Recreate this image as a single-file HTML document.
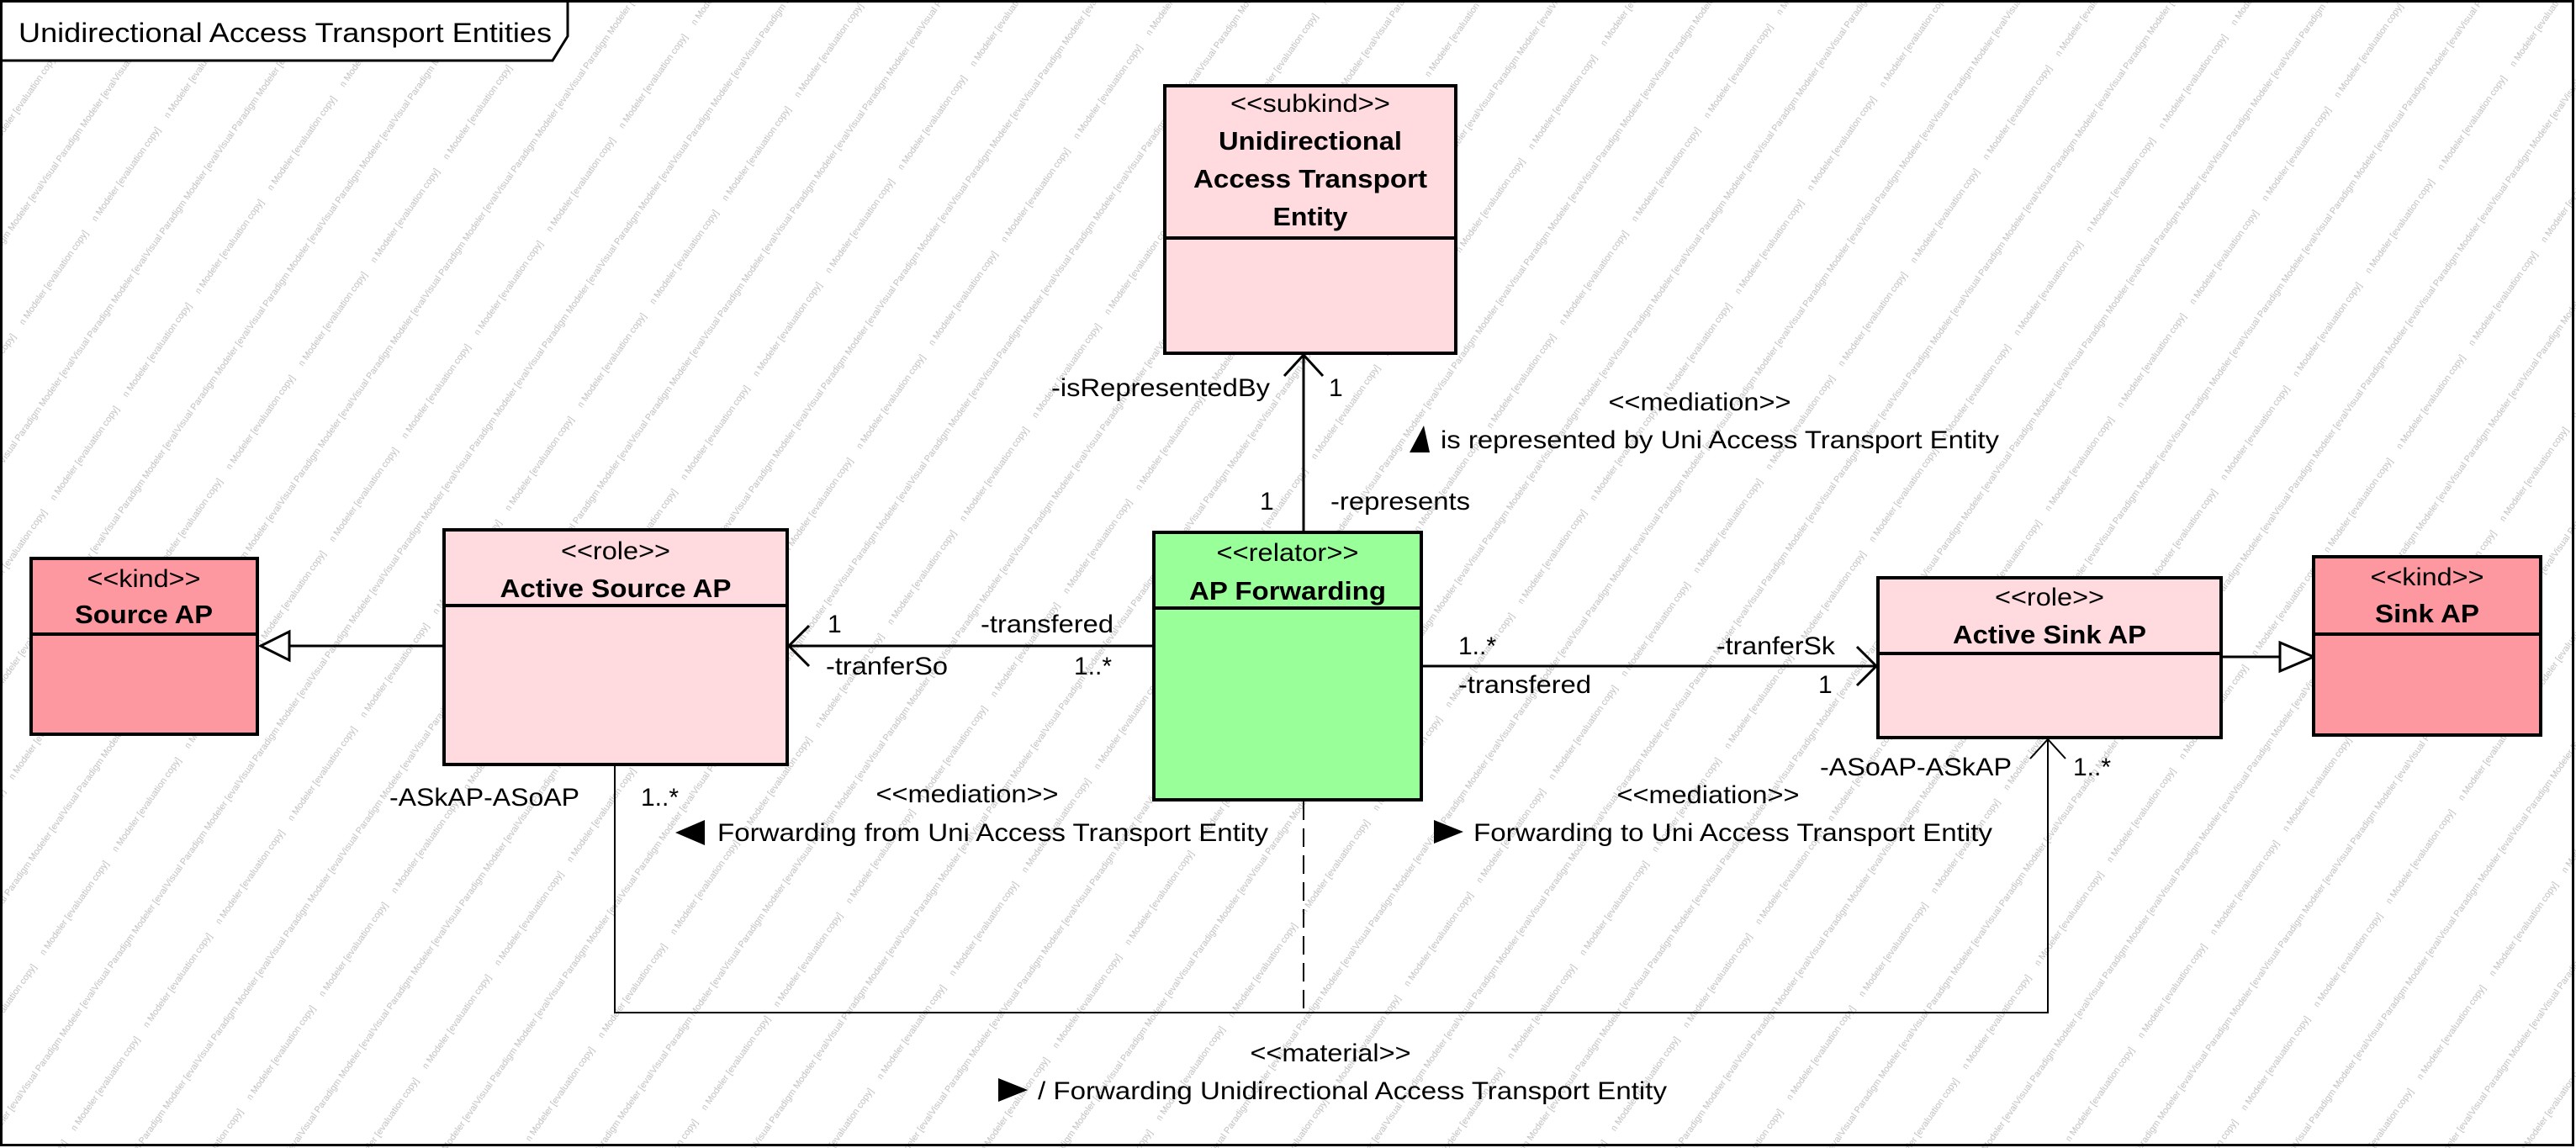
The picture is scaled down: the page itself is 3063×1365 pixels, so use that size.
<!DOCTYPE html>
<html><head><meta charset="utf-8"><style>
html,body{margin:0;padding:0;background:#fff}
svg{display:block}
text{font-family:"Liberation Sans",Arial,sans-serif;fill:#000}
.s{font-size:30px}
.b{font-size:31px;font-weight:bold}
.l{font-size:30px}
</style></head><body>
<svg width="3063" height="1365" viewBox="0 0 3063 1365" xmlns="http://www.w3.org/2000/svg">
<defs>
<pattern id="wm" width="150" height="150" patternUnits="userSpaceOnUse" patternTransform="rotate(-55)">
<text x="0" y="20" style="font-size:11px;fill:#c0c0c0">Visual Paradigm Modeler [evaluation copy]</text>
<text x="-75" y="95" style="font-size:11px;fill:#c0c0c0">Visual Paradigm Modeler [evaluation copy]</text>
</pattern>
</defs>
<rect x="0" y="0" width="3063" height="1365" fill="#fff"/>
<rect x="0" y="0" width="3063" height="1365" fill="url(#wm)"/>
<rect x="1.5" y="1.5" width="3058" height="1360" fill="none" stroke="#000" stroke-width="3"/>
<polygon points="1.5,1.5 675,1.5 675,43 657,72 1.5,72" fill="#fff" stroke="#000" stroke-width="3"/>
<text x="22" y="50" style="font-size:32px" textLength="634" lengthAdjust="spacingAndGlyphs">Unidirectional Access Transport Entities</text>

<g stroke="#000" stroke-width="3" fill="none">
<line x1="344" y1="768" x2="528" y2="768"/>
<polygon points="310,768 344,751 344,785" fill="#fff"/>
<line x1="938" y1="768" x2="1372" y2="768"/>
<polyline points="962,744 938,768 962,792"/>
<line x1="1690" y1="792" x2="2231" y2="792"/>
<polyline points="2208,769 2231,792 2208,815"/>
<line x1="2641" y1="781" x2="2711" y2="781"/>
<polygon points="2751,781 2711,764 2711,798" fill="#fff"/>
<line x1="1550" y1="422" x2="1550" y2="633"/>
<polyline points="1527,447 1550,422 1573,447"/>
</g>
<g stroke="#000" stroke-width="2" fill="none">
<polyline points="731,911 731,1204 2435,1204 2435,879"/>
<polyline points="2414,902 2435,879 2456,902"/>
<line x1="1550" y1="953" x2="1550" y2="1204" stroke-dasharray="22,10"/>
</g>

<g stroke="#000" stroke-width="4">
<rect x="1385" y="102" width="346" height="318" fill="#ffdadf"/>
<line x1="1385" y1="283" x2="1731" y2="283"/>
<rect x="37" y="664" width="269" height="209" fill="#fe98a0"/>
<line x1="37" y1="754" x2="306" y2="754"/>
<rect x="528" y="630" width="408" height="279" fill="#ffdadf"/>
<line x1="528" y1="720" x2="936" y2="720"/>
<rect x="1372" y="633" width="318" height="318" fill="#99ff99"/>
<line x1="1372" y1="723" x2="1690" y2="723"/>
<rect x="2233" y="687" width="408" height="190" fill="#ffdadf"/>
<line x1="2233" y1="777" x2="2641" y2="777"/>
<rect x="2751" y="662" width="270" height="212" fill="#fe98a0"/>
<line x1="2751" y1="754" x2="3021" y2="754"/>
</g>
<g text-anchor="middle" dominant-baseline="middle" lengthAdjust="spacingAndGlyphs">
<text class="s" x="1558" y="125" textLength="190" lengthAdjust="spacingAndGlyphs">&lt;&lt;subkind&gt;&gt;</text>
<text class="b" x="1558" y="170" textLength="218" lengthAdjust="spacingAndGlyphs">Unidirectional</text>
<text class="b" x="1558" y="215" textLength="278" lengthAdjust="spacingAndGlyphs">Access Transport</text>
<text class="b" x="1558" y="260" textLength="89" lengthAdjust="spacingAndGlyphs">Entity</text>
<text class="s" x="171" y="690" textLength="135" lengthAdjust="spacingAndGlyphs">&lt;&lt;kind&gt;&gt;</text>
<text class="b" x="171" y="733" textLength="164" lengthAdjust="spacingAndGlyphs">Source AP</text>
<text class="s" x="732" y="657" textLength="130" lengthAdjust="spacingAndGlyphs">&lt;&lt;role&gt;&gt;</text>
<text class="b" x="732" y="702" textLength="275" lengthAdjust="spacingAndGlyphs">Active Source AP</text>
<text class="s" x="1531" y="659" textLength="169" lengthAdjust="spacingAndGlyphs">&lt;&lt;relator&gt;&gt;</text>
<text class="b" x="1531" y="705" textLength="234" lengthAdjust="spacingAndGlyphs">AP Forwarding</text>
<text class="s" x="2437" y="712" textLength="130" lengthAdjust="spacingAndGlyphs">&lt;&lt;role&gt;&gt;</text>
<text class="b" x="2437" y="757" textLength="230" lengthAdjust="spacingAndGlyphs">Active Sink AP</text>
<text class="s" x="2886" y="688" textLength="135" lengthAdjust="spacingAndGlyphs">&lt;&lt;kind&gt;&gt;</text>
<text class="b" x="2886" y="732" textLength="124" lengthAdjust="spacingAndGlyphs">Sink AP</text>
</g>

<g dominant-baseline="middle">
<text class="l" x="1250" y="463" textLength="260" lengthAdjust="spacingAndGlyphs">-isRepresentedBy</text>
<text class="l" x="1580" y="463">1</text>
<text class="l" x="2021" y="480" text-anchor="middle" textLength="217" lengthAdjust="spacingAndGlyphs">&lt;&lt;mediation&gt;&gt;</text>
<polygon points="1676,538 1700,538 1693,506" fill="#000"/>
<text class="l" x="1713" y="525" textLength="664" lengthAdjust="spacingAndGlyphs">is represented by Uni Access Transport Entity</text>
<text class="l" x="1498" y="598">1</text>
<text class="l" x="1582" y="598" textLength="166" lengthAdjust="spacingAndGlyphs">-represents</text>
<text class="l" x="984" y="744">1</text>
<text class="l" x="1166" y="744" textLength="158" lengthAdjust="spacingAndGlyphs">-transfered</text>
<text class="l" x="982" y="794" textLength="145" lengthAdjust="spacingAndGlyphs">-tranferSo</text>
<text class="l" x="1277" y="794">1..*</text>
<text class="l" x="1734" y="770">1..*</text>
<text class="l" x="2041" y="770" textLength="141" lengthAdjust="spacingAndGlyphs">-tranferSk</text>
<text class="l" x="1734" y="816" textLength="158" lengthAdjust="spacingAndGlyphs">-transfered</text>
<text class="l" x="2162" y="816">1</text>
<text class="l" x="463" y="950" textLength="226" lengthAdjust="spacingAndGlyphs">-ASkAP-ASoAP</text>
<text class="l" x="762" y="950">1..*</text>
<text class="l" x="1150" y="946" text-anchor="middle" textLength="217" lengthAdjust="spacingAndGlyphs">&lt;&lt;mediation&gt;&gt;</text>
<polygon points="803,990 838,975 838,1005" fill="#000"/>
<text class="l" x="853" y="992" textLength="655" lengthAdjust="spacingAndGlyphs">Forwarding from Uni Access Transport Entity</text>
<text class="l" x="2164" y="914" textLength="228" lengthAdjust="spacingAndGlyphs">-ASoAP-ASkAP</text>
<text class="l" x="2465" y="914">1..*</text>
<text class="l" x="2031" y="947" text-anchor="middle" textLength="217" lengthAdjust="spacingAndGlyphs">&lt;&lt;mediation&gt;&gt;</text>
<polygon points="1705,975 1740,989 1705,1003" fill="#000"/>
<text class="l" x="1752" y="992" textLength="617" lengthAdjust="spacingAndGlyphs">Forwarding to Uni Access Transport Entity</text>
<text class="l" x="1582" y="1254" text-anchor="middle" textLength="191" lengthAdjust="spacingAndGlyphs">&lt;&lt;material&gt;&gt;</text>
<polygon points="1187,1282 1222,1296 1187,1310" fill="#000"/>
<text class="l" x="1234" y="1299" textLength="748" lengthAdjust="spacingAndGlyphs">/ Forwarding Unidirectional Access Transport Entity</text>
</g>
</svg>
</body></html>
